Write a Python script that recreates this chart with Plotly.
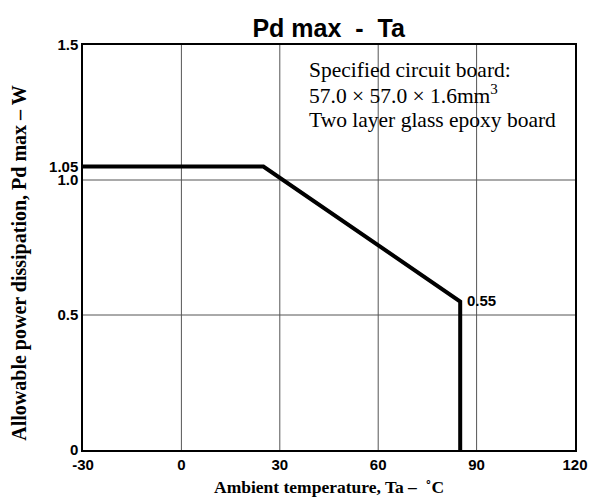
import plotly.graph_objects as go

ta = [-30, 25, 85, 85]
pd_max = [1.05, 1.05, 0.55, 0.0]
x_ticks = [-30, 0, 30, 60, 90, 120]
y_ticks = [0, 0.5, 1.0, 1.05, 1.5]
y_tick_labels = ["0", "0.5", "1.0", "1.05", "1.5"]
note_lines = ["Specified circuit board:",
              "57.0 × 57.0 × 1.6mm<sup>3</sup>",
              "Two layer glass epoxy board"]

fig = go.Figure()
fig.add_trace(go.Scatter(x=ta, y=pd_max, mode="lines",
                         line=dict(color="black", width=4), hoverinfo="skip"))

for xv in [0, 30, 60, 90]:
    fig.add_shape(type="line", x0=xv, x1=xv, y0=0, y1=1.5, xref="x", yref="y",
                  line=dict(color="#555555", width=1), layer="below")
for yv in [0.5, 1.0]:
    fig.add_shape(type="line", x0=-30, x1=120, y0=yv, y1=yv, xref="x", yref="y",
                  line=dict(color="#555555", width=1), layer="below")

fig.add_annotation(x=85, y=0.55, text="<b>0.55</b>", showarrow=False,
                   xanchor="left", yanchor="middle", xshift=5, yshift=1,
                   font=dict(family="Liberation Sans", size=15, color="black"))
for i, line in enumerate(note_lines):
    fig.add_annotation(x=0.455, y=0.938 - i * 0.0617, xref="paper", yref="paper",
                       text=line, showarrow=False, xanchor="left", yanchor="middle",
                       align="left", yshift=1 if i == 1 else 0,
                       font=dict(family="Liberation Serif", size=21.5, color="black"))
# axis titles placed as annotations to match their positions
fig.add_annotation(x=-0.128, y=0.46, xref="paper", yref="paper",
                   text="<b>Allowable power dissipation, Pd max – W</b>", textangle=-90,
                   showarrow=False, xanchor="center", yanchor="middle",
                   font=dict(family="Liberation Serif", size=20, color="black"))
fig.add_annotation(x=0.5, y=-0.092, xref="paper", yref="paper",
                   text="<b>Ambient temperature, Ta –  ˚C</b>",
                   showarrow=False, xanchor="center", yanchor="middle",
                   font=dict(family="Liberation Serif", size=17.5, color="black"))

fig.update_layout(
    width=590, height=501,
    margin=dict(l=83, r=15, t=45, b=51, autoexpand=False),
    paper_bgcolor="white", plot_bgcolor="white",
    showlegend=False,
    title=dict(text="<b>Pd max  -  Ta</b>", x=0.557, xanchor="center", y=0.962, yanchor="top",
               font=dict(family="Liberation Sans", size=25, color="black")),
    xaxis=dict(range=[-30, 120], tickvals=x_ticks, ticktext=["<b>%d</b>" % v for v in x_ticks],
               showgrid=False, zeroline=False, showline=True, mirror=True,
               linecolor="black", linewidth=1.5, ticks="", ticklen=0, automargin=False,
               tickfont=dict(family="Liberation Sans", size=15, color="black")),
    yaxis=dict(range=[0, 1.5], tickvals=y_ticks, ticktext=["<b>%s</b>" % t for t in y_tick_labels],
               showgrid=False, zeroline=False, showline=True, mirror=True,
               linecolor="black", linewidth=1.5, ticks="", ticklen=0, automargin=False,
               tickfont=dict(family="Liberation Sans", size=15, color="black")),
)

fig.write_html("out.html")
